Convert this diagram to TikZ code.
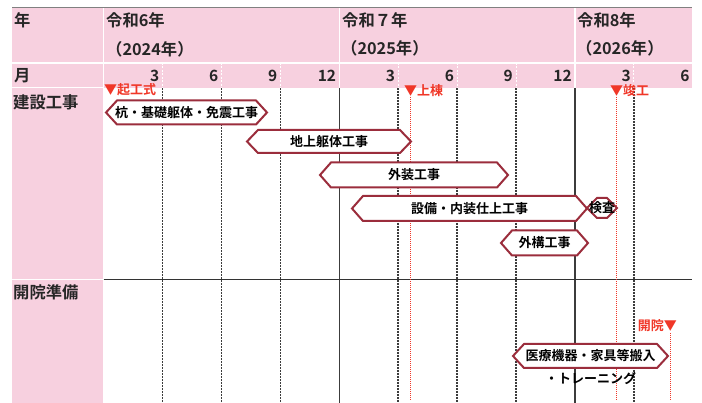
\documentclass[tikz,border=0pt]{standalone}
\usepackage{fontspec}
\setmainfont{Noto Sans CJK JP}[BoldFont={Noto Sans CJK JP Bold}]
\definecolor{hdrpink}{RGB}{247,208,223}
\definecolor{barred}{RGB}{155,45,60}
\definecolor{markred}{RGB}{240,55,40}
\definecolor{gridgray}{RGB}{60,60,60}
\tikzset{
  lbl/.style={inner sep=0pt, font=\bfseries\fontsize{16.3}{17}\selectfont, text=black!85},
  mon/.style={inner sep=0pt, anchor=east, font=\bfseries\fontsize{15.5}{16}\selectfont, text=black!85},
  bartext/.style={inner sep=0pt, font=\bfseries\fontsize{13}{14}\selectfont},
  marktext/.style={inner sep=0pt, font=\bfseries\fontsize{13}{14}\selectfont, text=markred},
  barline/.style={draw=barred, line width=2pt, fill=white, line join=miter},
  gridline/.style={gridgray, line width=1.6pt, dash pattern=on 1.6pt off 1.4pt},
  yearline/.style={gridgray, line width=1.3pt},
  redline/.style={markred, line width=0.8pt, dash pattern=on 1pt off 1pt},
  whitesep/.style={white, line width=1.5pt},
}
\newcommand\hexbar[6]{%
  \draw[barline] (#2,#4) -- ({#2+11},{#4-#5}) -- ({#3-11},{#4-#5}) -- (#3,#4)
    -- ({#3-11},{#4+#5}) -- ({#2+11},{#4+#5}) -- cycle;
  \node[bartext] (#1) at ({(#2+#3)/2},#4) {#6};
}
\begin{document}
\begin{tikzpicture}[x=1pt,y=-1pt]
\useasboundingbox (0,0) rectangle (702,403);
% pink backgrounds
\fill[hdrpink] (12,8) rectangle (692,88);
\fill[hdrpink] (12,88) rectangle (103.6,403);
\draw[gray, line width=0.8pt] (12,7.5) -- (692,7.5);
% white separators in header
\draw[whitesep] (12,63) -- (692,63);
\draw[whitesep] (103.6,8) -- (103.6,403);
\draw[whitesep] (339.3,8) -- (339.3,88);
\draw[whitesep] (575,8) -- (575,88);
\draw[whitesep] (12,87.5) -- (103.6,87.5);
\draw[whitesep] (12,279.5) -- (103.6,279.5);
\foreach \m in {3,6,9,15,18,21,27,30}{
  \draw[white, line width=1pt, dash pattern=on 2pt off 1.5pt] ({103.6+19.64*\m},63) -- ({103.6+19.64*\m},88);
}
% grid
\foreach \m in {3,6,9,15,18,21,27}{
  \draw[gridline] ({103.6+19.64*\m},88) -- ({103.6+19.64*\m},403);
}
\foreach \m in {12,24}{
  \draw[yearline] ({103.6+19.64*\m},88) -- ({103.6+19.64*\m},403);
}
\draw[black!80, line width=1.4pt] (103.6,279.5) -- (692,279.5);
% header text
\node[lbl, anchor=west] (nen) at (14,20) {年};
\node[lbl, anchor=west] (y6) at (106,20) {令和6年};
\node[lbl, anchor=west] (y6b) at (106,49) {（2024年）};
\node[lbl, anchor=west] (y7) at (342,20) {令和７年};
\node[lbl, anchor=west] (y7b) at (341,48) {（2025年）};
\node[lbl, anchor=west] (y8) at (577,20) {令和8年};
\node[lbl, anchor=west] (y8b) at (576,48) {（2026年）};
\node[lbl, anchor=west] (tsuki) at (14,76) {月};
\foreach \m/\t [count=\i] in {3/3,6/6,9/9,12/12,15/3,18/6,21/9,24/12,27/3,30/6}{
  \node[mon] (mon\i) at ({103.6+19.64*\m-3},76) {\t};
}
\node[lbl, anchor=west] (kensetsu) at (13,102) {建設工事};
\node[lbl, anchor=west] (kaiin) at (13,292) {開院準備};
% red markers
\draw[redline] (410,97) -- (410,400);
\draw[redline] (616,97) -- (616,400);
\draw[redline] (670,333) -- (670,400);
\node[marktext, anchor=west] (kiko) at (104,90) {▼起工式};
\node[marktext, anchor=west] (joto) at (404,91) {▼上棟};
\node[marktext, anchor=west] (shunko) at (610,91) {▼竣工};
\node[marktext, anchor=east] (kaiinm) at (677,326) {開院▼};
% bars
\hexbar{b1}{106}{267}{112.5}{12}{杭・基礎躯体・免震工事}
\hexbar{b2}{247}{411}{141.5}{11.5}{地上躯体工事}
\hexbar{b3}{320}{508}{175}{12.5}{外装工事}
\hexbar{b4}{352}{587}{208.5}{12.5}{設備・内装仕上工事}
\draw[barline] (587,208) -- (597,198) -- (607,198) -- (617,208) -- (607,218) -- (597,218) -- cycle;
\node[bartext] (kensa) at (602,208) {検査};
\hexbar{b6}{501}{588}{243}{12.5}{外構工事}
\hexbar{b7}{513}{668}{356}{12}{医療機器・家具等搬入}
\node[bartext, anchor=west] (training) at (545,378) {・トレーニング};
\end{tikzpicture}
\end{document}
